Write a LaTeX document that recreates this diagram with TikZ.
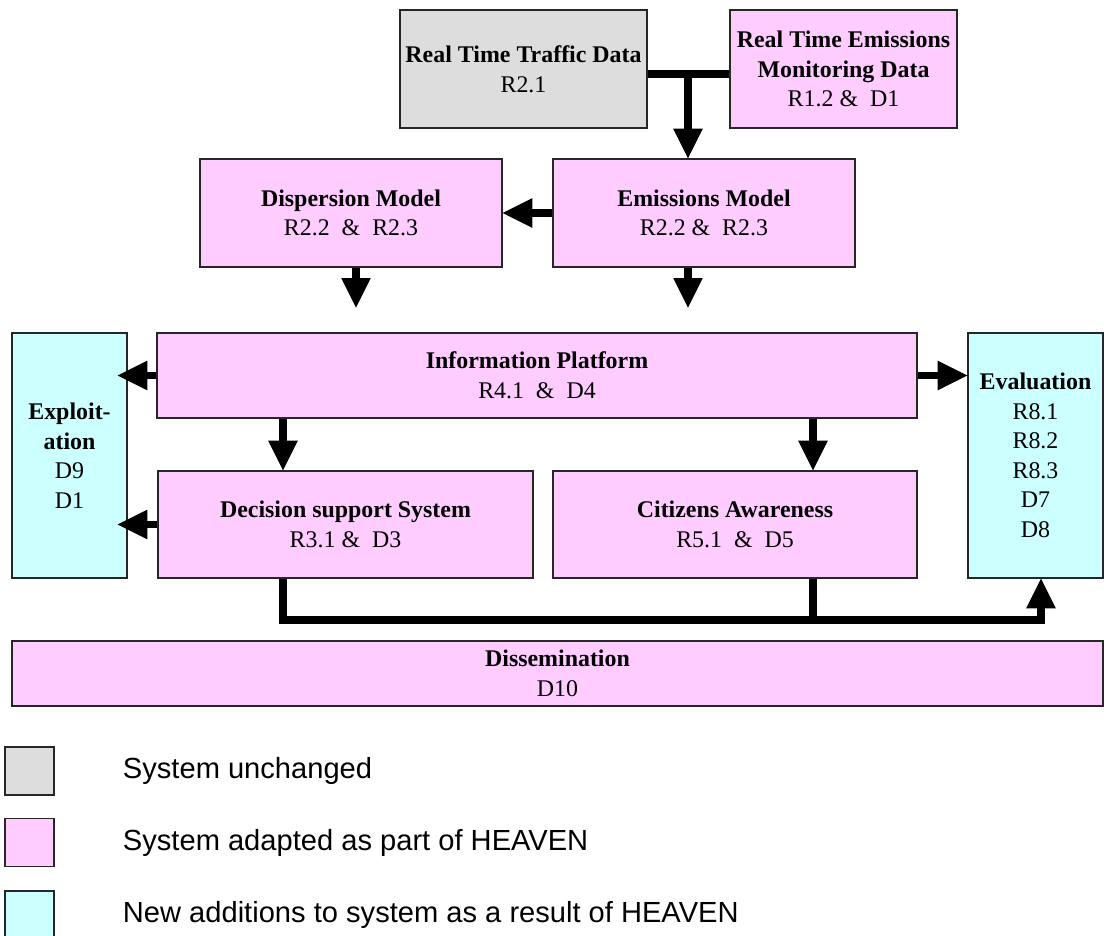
\documentclass[tikz,border=0pt]{standalone}
\usepackage{fontspec}
\setmainfont{Liberation Serif}
\newfontfamily\legendfont{Liberation Sans}
\usetikzlibrary{arrows.meta, positioning}
\definecolor{cGrey}{HTML}{DDDDDD}
\definecolor{cPink}{HTML}{FFCCFF}
\definecolor{cCyan}{HTML}{CCFFFF}

\begin{document}
\begin{tikzpicture}[
    sysbox/.style={draw=black!85, line width=1pt, align=center, inner sep=0pt,
                   font=\fontsize{17}{21}\selectfont},
    link/.style={line width=5.3pt, line join=miter},
    tip/.style={-{Triangle[length=7.4mm, width=7.4mm, line width=0pt]}},
    legbox/.style={draw=black!85, line width=1pt, minimum width=1.225cm,
                   minimum height=1.2cm, inner sep=0pt},
    legtext/.style={inner sep=0pt, font=\legendfont\fontsize{20.7}{24}\selectfont}]
    \useasboundingbox (0,0) rectangle (27.6,-23.375);
    % data sources
    \node[sysbox, fill=cGrey, minimum width=6.175cm, minimum height=2.95cm]
      (traffic) at (13.0875,-1.725) {\bfseries Real Time Traffic Data\\R2.1};
    \node[sysbox, fill=cPink, minimum width=5.675cm, minimum height=2.95cm]
      (monitor) at (21.0875,-1.725) {\bfseries Real Time Emissions\\\bfseries Monitoring Data\\R1.2 \& \ D1};
    % models
    \node[sysbox, fill=cPink, minimum width=7.55cm, minimum height=2.7cm]
      (disp) at (8.775,-5.325) {\bfseries Dispersion Model\\R2.2 \ \& \ R2.3};
    \node[sysbox, fill=cPink, minimum width=7.55cm, minimum height=2.7cm]
      (emis) at (17.6,-5.325) {\bfseries Emissions Model\\R2.2 \& \ R2.3};
    % platform and services
    \node[sysbox, fill=cPink, minimum width=19cm, minimum height=2.125cm]
      (info) at (13.425,-9.3875) {\bfseries Information Platform\\R4.1 \ \& \ D4};
    \node[sysbox, fill=cCyan, minimum width=2.875cm, minimum height=6.125cm]
      (expl) at (1.7375,-11.3875) {\bfseries Exploit-\\\bfseries ation\\D9\\D1};
    \node[sysbox, fill=cCyan, minimum width=3.375cm, minimum height=6.125cm]
      (eval) at (25.8875,-11.3875) {\bfseries Evaluation\\R8.1\\R8.2\\R8.3\\D7\\D8};
    \node[sysbox, fill=cPink, minimum width=9.375cm, minimum height=2.675cm]
      (dss) at (8.6375,-13.1125) {\bfseries Decision support System\\R3.1 \& \ D3};
    \node[sysbox, fill=cPink, minimum width=9.1cm, minimum height=2.675cm]
      (citz) at (18.375,-13.1125) {\bfseries Citizens Awareness\\R5.1 \ \& \ D5};
    \node[sysbox, fill=cPink, minimum width=27.275cm, minimum height=1.625cm]
      (dissem) at (13.9375,-16.8375) {\bfseries Dissemination\\D10};
    % connectors
    \coordinate (join) at (17.2,-1.85);
    \coordinate (busL) at (7.075,-15.5);
    \coordinate (busM) at (20.325,-15.5);
    \coordinate (busR) at (26.025,-15.5);
    \draw[link] (traffic.east |- join) -- (monitor.west |- join);
    \draw[link, tip] (join) -- (join |- emis.north);
    \draw[link, tip] (emis.west) -- (disp.east);
    \draw[link, tip] ([xshift=1.25mm]disp.south) -- ++(0,-1cm);
    \draw[link, tip] (join |- emis.south) -- ++(0,-1cm);
    \draw[link, tip] (info.west) -- ([xshift=-2.5mm]expl.east |- info.west);
    \draw[link, tip] (info.east) -- (eval.west |- info.east);
    \draw[link, tip] (busL |- info.south) -- (busL |- dss.north);
    \draw[link, tip] (busM |- info.south) -- (busM |- citz.north);
    \draw[link, tip] (dss.west) -- ([xshift=-2.5mm]expl.east |- dss.west);
    \draw[link, tip] (busL |- dss.south) -- (busL) -- (busR) -- (busR |- eval.south);
    \draw[link] (busM |- citz.south) -- (busM);
    % legend
    \node[legbox, fill=cGrey] (lgGrey) at (0.7375,-19.275) {};
    \node[legtext, right=1.7cm of lgGrey] (txGrey) {System unchanged};
    \node[legbox, fill=cPink] (lgPink) at (0.7375,-21.0625) {};
    \node[legtext, right=1.7cm of lgPink] (txPink) {System adapted as part of HEAVEN};
    \node[legbox, fill=cCyan] (lgCyan) at (0.7375,-22.875) {};
    \node[legtext, right=1.7cm of lgCyan] (txCyan) {New additions to system as a result of HEAVEN};
\end{tikzpicture}
\end{document}
